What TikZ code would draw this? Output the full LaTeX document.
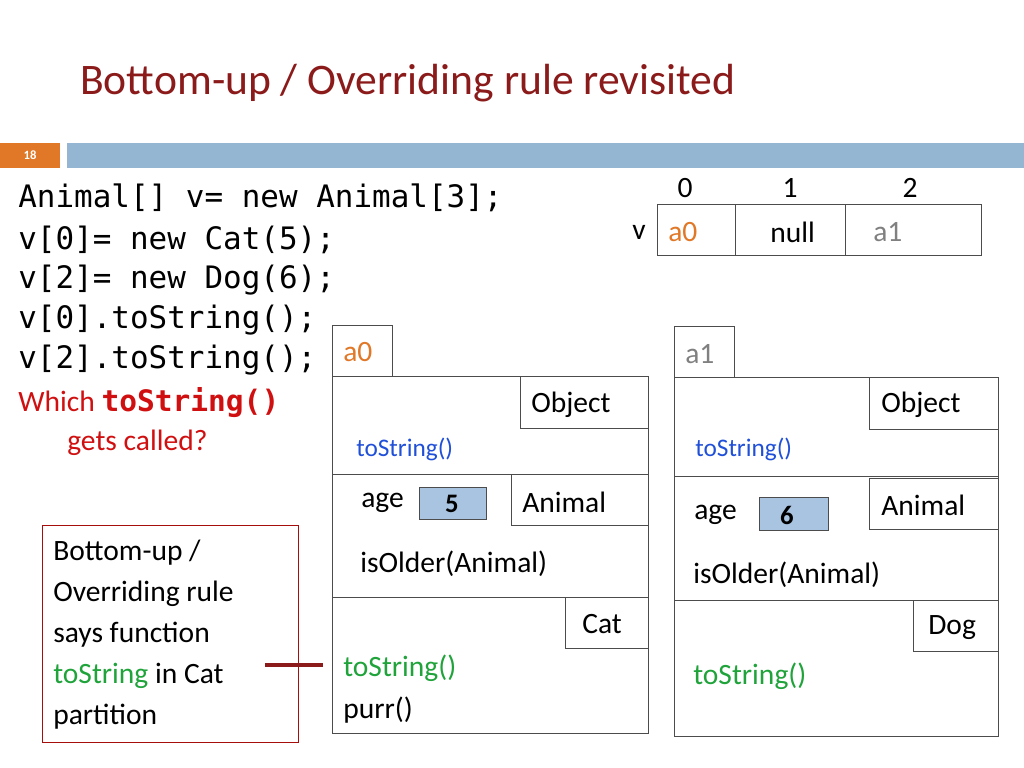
\documentclass[tikz,border=0pt]{standalone}
\usepackage{fontspec}
\setmainfont{Carlito}
\setmonofont{DejaVu Sans Mono}
\usetikzlibrary{calc}
\definecolor{titlered}{HTML}{8B1A1A}
\definecolor{hired}{HTML}{D01010}
\definecolor{mgreen}{HTML}{1FA33A}
\definecolor{mblue}{HTML}{2050D8}
\definecolor{morange}{HTML}{E07828}
\definecolor{barblue}{HTML}{94B6D2}
\definecolor{cellblue}{HTML}{A9C4E0}
\begin{document}
\begin{tikzpicture}[x=0.025cm,y=-0.025cm,
    box/.style={draw=black!70,line width=0.6pt},
    txt/.style={anchor=west,inner sep=0pt,font=\fontsize{21}{24}\selectfont},
    code/.style={anchor=west,inner sep=0pt,font=\ttfamily\fontsize{22}{26}\selectfont}]
  \useasboundingbox (0,0) rectangle (1024,768);
  % title and bar
  \node[anchor=west,inner sep=0pt,text=titlered,font=\fontsize{31}{34}\selectfont] (title) at (80,83) {Bottom-up / Overriding rule revisited};
  \fill[morange] (0,143) rectangle (60,168);
  \node[text=white,font=\bfseries\fontsize{9}{10}\selectfont] (num) at (30,155) {18};
  \fill[barblue] (67,143) rectangle (1024,168);
  % code
  \node[code] (c1) at (18,198) {Animal[] v= new Animal[3];};
  \node[code] (c2) at (18,240) {v[0]= new Cat(5);};
  \node[code] (c3) at (18,280) {v[2]= new Dog(6);};
  \node[code] (c4) at (18,320) {v[0].toString();};
  \node[code] (c5) at (18,360) {v[2].toString();};
  \node[txt,text=hired] (q1) at (18,403) {Which \texttt{\bfseries toString()}};
  \node[txt,text=hired] (q2) at (67,443) {gets called?};
  % array
  \foreach \i/\x in {0/685,1/790,2/910}
    \node[txt,anchor=center] (idx\i) at (\x,188) {\i};
  \draw[box] (657,204) rectangle (735,255) (735,204) rectangle (845,255) (845,204) rectangle (981,255);
  \node[txt] (vname) at (632,232) {v};
  \node[txt,text=morange] (v0) at (668,232) {a0};
  \node[txt] (v1) at (770,232) {null};
  \node[txt,text=black!50] (v2) at (873,232) {a1};
  % object a0
  \draw[box] (332,325) rectangle (392,376);
  \node[txt,text=morange] (tag0) at (343,352) {a0};
  \draw[box] (332,376) rectangle (648,733);
  \draw[box] (332,474) -- (648,474) (332,597) -- (648,597);
  \draw[box] (520,376) rectangle (648,428);
  \node[txt] (obj0) at (531,405) {Object};
  \draw[box] (511,474) rectangle (648,525);
  \node[txt] (ani0) at (522,502) {Animal};
  \draw[box] (565,597) rectangle (648,648);
  \node[txt] (cat) at (582,624) {Cat};
  \node[txt,text=mblue,font=\fontsize{18}{20}\selectfont] (ts0) at (356,449) {toString()};
  \node[txt] (age0) at (361,503) {age};
  \draw[box,fill=cellblue] (419,487) rectangle (486,519);
  \node[txt,anchor=center,font=\bfseries\fontsize{19}{20}\selectfont] (val0) at (452,504) {5};
  \node[txt] (iso0) at (360,564) {isOlder(Animal)};
  \node[txt,text=mgreen] (tsc) at (343,668) {toString()};
  \node[txt] (purr) at (343,710) {purr()};
  % object a1
  \draw[box] (674,326) rectangle (734,377);
  \node[txt,text=black!50] (tag1) at (685,354) {a1};
  \draw[box] (674,377) rectangle (998,736);
  \draw[box] (674,476) -- (998,476) (674,600) -- (998,600);
  \draw[box] (869,377) rectangle (998,429);
  \node[txt] (obj1) at (881,405) {Object};
  \draw[box] (869,478) rectangle (998,529);
  \node[txt] (ani1) at (881,505) {Animal};
  \draw[box] (913,600) rectangle (998,651);
  \node[txt] (dog) at (928,628) {Dog};
  \node[txt,text=mblue,font=\fontsize{18}{20}\selectfont] (ts1) at (695,449) {toString()};
  \node[txt] (age1) at (694,515) {age};
  \draw[box,fill=cellblue] (759,497) rectangle (828,530);
  \node[txt,anchor=center,font=\bfseries\fontsize{19}{20}\selectfont] (val1) at (787,515) {6};
  \node[txt] (iso1) at (693,575) {isOlder(Animal)};
  \node[txt,text=mgreen] (tsd) at (693,676) {toString()};
  % note
  \draw[draw=hired!80!black,line width=0.6pt] (42,525) rectangle (298,742);
  \node[txt] (n1) at (53,553) {Bottom-up /};
  \node[txt] (n2) at (53,594) {Overriding rule};
  \node[txt] (n3) at (53,635) {says function};
  \node[txt] (n4) at (53,676) {\textcolor{mgreen}{toString} in Cat};
  \node[txt] (n5) at (53,717) {partition};
  \coordinate (pl) at (265,665);
  \coordinate (pr) at (323,665);
  \draw[titlered,line width=2.5pt] (pl) -- (pr);
\end{tikzpicture}
\end{document}
